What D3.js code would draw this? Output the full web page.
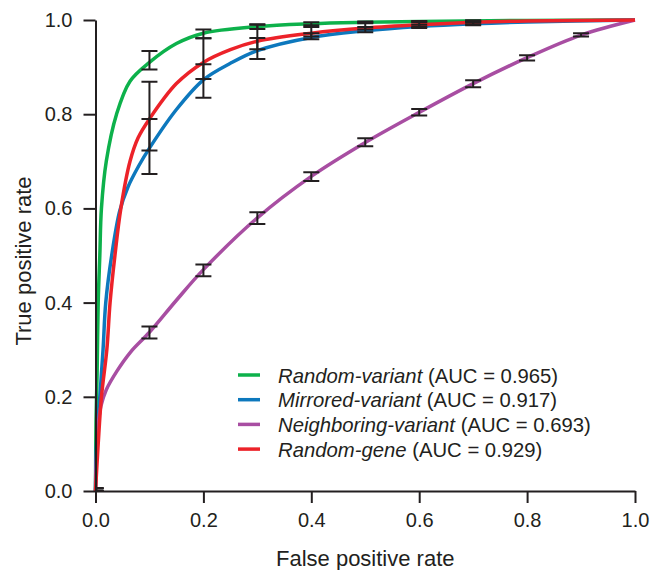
<!DOCTYPE html>
<html>
<head>
<meta charset="utf-8">
<script src="https://cdn.jsdelivr.net/npm/d3@7"></script>
<style>
  body { margin: 0; background: #fff; }
  text { font-family: "Liberation Sans", Arial, sans-serif; fill: #231f20; }
</style>
</head>
<body>
<script>
// ROC curves as [fpr, tpr]
let randomVariantRoc = [[0, 0], [0.001, 0.15], [0.003, 0.25], [0.005, 0.4], [0.008, 0.5], [0.011, 0.6],
    [0.02, 0.7], [0.039, 0.8], [0.064, 0.87], [0.1, 0.91], [0.15, 0.95], [0.2, 0.972], [0.3, 0.986],
    [0.4, 0.992], [0.5, 0.995], [0.6, 0.997], [0.8, 0.999], [1, 1]]
let mirroredVariantRoc = [[0, 0], [0.002, 0.1], [0.008, 0.2], [0.014, 0.3], [0.019, 0.4], [0.03, 0.5],
    [0.045, 0.595], [0.06, 0.645], [0.08, 0.69], [0.1, 0.728], [0.15, 0.81], [0.2, 0.873], [0.25, 0.908],
    [0.3, 0.935], [0.4, 0.963], [0.5, 0.977], [0.6, 0.986], [0.7, 0.992], [0.8, 0.996], [1, 1]]
let neighboringVariantRoc = [[0, 0], [0.002, 0.08], [0.005, 0.14], [0.01, 0.18], [0.02, 0.215], [0.04, 0.255],
    [0.065, 0.295], [0.1, 0.337], [0.15, 0.405], [0.2, 0.47], [0.3, 0.58], [0.4, 0.668], [0.5, 0.74],
    [0.6, 0.804], [0.7, 0.865], [0.8, 0.92], [0.9, 0.968], [1, 1]]
let randomGeneRoc = [[0, 0], [0.005, 0.1], [0.011, 0.2], [0.021, 0.3], [0.027, 0.4], [0.036, 0.5],
    [0.047, 0.6], [0.064, 0.7], [0.079, 0.75], [0.1, 0.79], [0.15, 0.865], [0.2, 0.91], [0.25, 0.937],
    [0.3, 0.955], [0.4, 0.972], [0.5, 0.983], [0.6, 0.99], [0.7, 0.995], [0.8, 0.998], [1, 1]]

// error bars at fixed fpr, [low, high] (null = not drawn)
let errFpr = [0, 0.1, 0.2, 0.3, 0.4, 0.5, 0.6, 0.7, 0.8, 0.9]
let randomVariantErr = [[0, 0.006], [0.895, 0.934], [0.961, 0.98], [0.981, 0.991], [0.989, 0.995],
    [0.993, 0.997], [0.995, 0.998], [0.997, 0.999], null, null]
let mirroredVariantErr = [[0, 0.006], [0.673, 0.79], [0.835, 0.906], [0.917, 0.962], [0.959, 0.972],
    [0.974, 0.985], [0.983, 0.99], [0.989, 0.995], null, null]
let neighboringVariantErr = [[0, 0.006], [0.324, 0.349], [0.456, 0.481], [0.567, 0.592], [0.658, 0.677],
    [0.732, 0.749], [0.797, 0.811], [0.857, 0.872], [0.914, 0.925], [0.965, 0.972]]
let randomGeneErr = [[0, 0.006], [0.723, 0.869], [0.875, 0.961], [0.938, 0.99], [0.965, 0.985],
    [0.98, 0.995], [0.985, 0.997], [0.991, 0.999], null, null]

let seriesNames = ['Random-variant', 'Mirrored-variant', 'Neighboring-variant', 'Random-gene']
let aucValues = ['0.965', '0.917', '0.693', '0.929']
let tickValues = [0, 0.2, 0.4, 0.6, 0.8, 1.0]

let colors = ['#0db14b', '#0d78bd', '#a84ea2', '#ec2229']
let ink = '#231f20'

let series = seriesNames.map((name, i) => ({
    name: name,
    auc: aucValues[i],
    color: colors[i],
    roc: [randomVariantRoc, mirroredVariantRoc, neighboringVariantRoc, randomGeneRoc][i],
    err: [randomVariantErr, mirroredVariantErr, neighboringVariantErr, randomGeneErr][i],
}))

let svg = d3.select('body').append('svg')
    .attr('width', 650)
    .attr('height', 570)

let x = d3.scaleLinear().domain([0, 1]).range([95.5, 635])
let y = d3.scaleLinear().domain([0, 1]).range([491, 20])

// keeps the half cap left of fpr = 0 hidden
svg.append('clipPath').attr('id', 'plotclip')
    .append('rect')
    .attr('x', x(0))
    .attr('y', y(1) - 12)
    .attr('width', x(1) - x(0) + 12)
    .attr('height', y(0) - y(1) + 12)

// curves
let line = d3.line()
    .x(d => x(d[0]))
    .y(d => y(d[1]))
    .curve(d3.curveCatmullRom.alpha(0.5))

svg.append('g')
    .selectAll('path')
    .data(series)
    .enter()
    .append('path')
    .attr('d', s => line(s.roc))
    .attr('fill', 'none')
    .attr('stroke', s => s.color)
    .attr('stroke-width', 3.5)
    .attr('stroke-linejoin', 'round')

// error bars
let bars = []
for (let s of series) {
    s.err.forEach((e, j) => {
        if (e) bars.push({ fpr: errFpr[j], lo: e[0], hi: e[1] })
    })
}
let capHalf = 8
let errG = svg.append('g')
    .attr('clip-path', 'url(#plotclip)')
    .attr('stroke', ink)
    .attr('stroke-width', 2)
    .attr('fill', 'none')
let bar = errG.selectAll('g').data(bars).enter().append('g')
bar.append('line')
    .attr('x1', d => x(d.fpr)).attr('x2', d => x(d.fpr))
    .attr('y1', d => y(d.lo)).attr('y2', d => y(d.hi))
bar.append('line')
    .attr('x1', d => x(d.fpr) - capHalf).attr('x2', d => x(d.fpr) + capHalf)
    .attr('y1', d => y(d.lo)).attr('y2', d => y(d.lo))
bar.append('line')
    .attr('x1', d => x(d.fpr) - capHalf).attr('x2', d => x(d.fpr) + capHalf)
    .attr('y1', d => y(d.hi)).attr('y2', d => y(d.hi))

// axes
let fmt = d3.format('.1f')
let xAxis = svg.append('g')
    .attr('transform', `translate(0,${y(0)})`)
    .call(d3.axisBottom(x).tickValues(tickValues).tickFormat(fmt)
        .tickSize(12).tickSizeOuter(0).tickPadding(10))
let yAxis = svg.append('g')
    .attr('transform', `translate(${x(0)},0)`)
    .call(d3.axisLeft(y).tickValues(tickValues).tickFormat(fmt)
        .tickSize(12).tickSizeOuter(0).tickPadding(11))

for (let ax of [xAxis, yAxis]) {
    ax.attr('font-family', null).attr('font-size', null)
    ax.select('.domain').attr('stroke', ink).attr('stroke-width', 2)
    ax.selectAll('.tick line').attr('stroke', ink).attr('stroke-width', 2)
    ax.selectAll('.tick text').attr('fill', ink).style('font-size', '20px')
}

svg.append('text')
    .attr('x', (x(0) + x(1)) / 2)
    .attr('y', 566)
    .attr('text-anchor', 'middle')
    .style('font-size', '22px')
    .text('False positive rate')

svg.append('text')
    .attr('transform', 'translate(30.5,261) rotate(-90)')
    .attr('text-anchor', 'middle')
    .style('font-size', '22px')
    .text('True positive rate')

// legend
let legend = svg.append('g')
let row = legend.selectAll('g')
    .data(series)
    .enter()
    .append('g')
    .attr('transform', (s, i) => `translate(238,${375 + i * 24.7})`)
row.append('line')
    .attr('x1', 0).attr('x2', 22)
    .attr('stroke', s => s.color)
    .attr('stroke-width', 3.5)
let label = row.append('text')
    .attr('x', 40)
    .attr('y', 7.5)
    .style('font-size', '20.3px')
label.append('tspan').style('font-style', 'italic').text(s => s.name)
label.append('tspan').text(s => ` (AUC = ${s.auc})`)
</script>
</body>
</html>
